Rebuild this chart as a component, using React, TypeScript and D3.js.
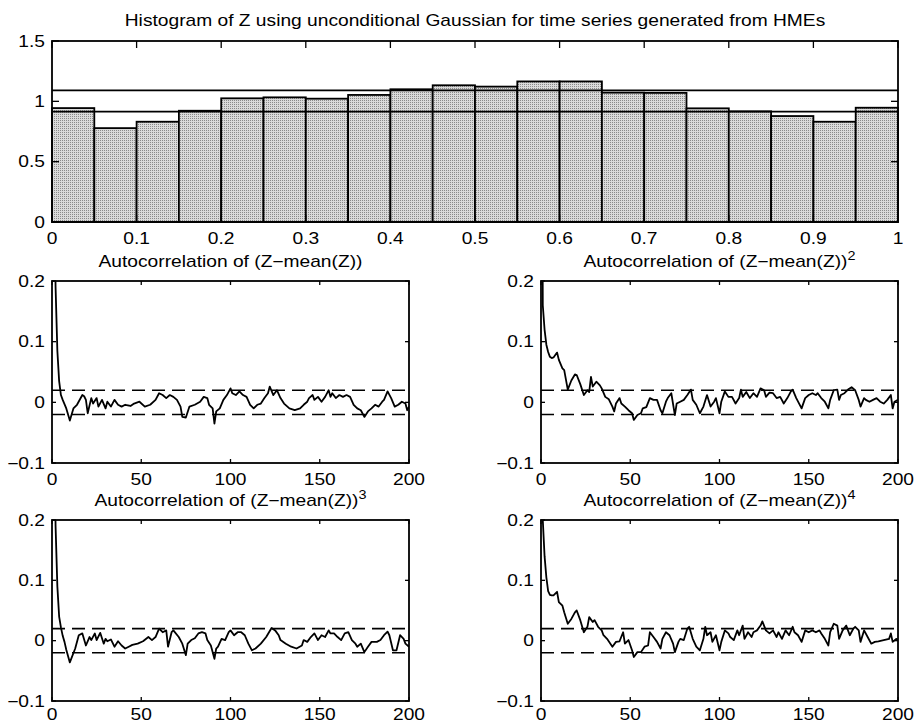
import React from 'react';
import * as d3 from 'd3';

// ---------- DATA ----------
const histEdges = [0, 0.05, 0.1, 0.15, 0.2, 0.25, 0.3, 0.35, 0.4, 0.45, 0.5, 0.55, 0.6, 0.65, 0.7, 0.75, 0.8, 0.85, 0.9, 0.95];
const histBinWidth = 0.05;
const histValues = [0.944, 0.778, 0.831, 0.922, 1.025, 1.033, 1.022, 1.053, 1.1, 1.133, 1.122, 1.165, 1.165, 1.072, 1.07, 0.942, 0.917, 0.878, 0.831, 0.947];
const histBounds = [0.915, 1.09];
const histXTicks = [0, 0.1, 0.2, 0.3, 0.4, 0.5, 0.6, 0.7, 0.8, 0.9, 1];
const histYTicks = [0, 0.5, 1, 1.5];

const acfXTicks = [0, 50, 100, 150, 200];
const acfYTicks = [-0.1, 0, 0.1, 0.2];
const confBand = [-0.02, 0.02];

const titleText = 'Histogram of Z using unconditional Gaussian for time series generated from HMEs';
const acfTitles = ['Autocorrelation of (Z\u2212mean(Z))', 'Autocorrelation of (Z\u2212mean(Z))', 'Autocorrelation of (Z\u2212mean(Z))', 'Autocorrelation of (Z\u2212mean(Z))'];
const acfPowers = ['', '2', '3', '4'];

// [lag, autocorrelation]
const acf1: [number, number][] = [[0,1],[1,0.45],[2,0.19],[3,0.085],[4,0.035],[5,0.012],[6,0.004],[8,-0.01],[10,-0.03],[12,-0.01],[14,-0.004],[17,0.012],[18,0.01],[19,0.004],[20,-0.018],[22,0.007],[23,-0.002],[25,0.007],[26,-0.007],[28,0.004],[30,-0.01],[31,0.001],[33,-0.007],[35,0.004],[37,-0.004],[39,-0.007],[41,-0.004],[44,-0.006],[46,-0.002],[49,0.001],[52,-0.007],[55,-0.004],[58,0.004],[60,0.015],[62,0.012],[64,0.007],[66,0.012],[68,0.009],[70,0.004],[72,-0.007],[73,-0.024],[75,-0.025],[77,-0.007],[80,-0.004],[83,0.001],[85,0.009],[87,0.007],[88,-0.004],[90,-0.01],[91,-0.035],[92,-0.015],[94,-0.01],[96,0.004],[98,0.012],[100,0.023],[101,0.015],[103,0.012],[105,0.018],[107,0.012],[109,0.009],[111,-0.004],[113,-0.01],[115,-0.004],[117,-0.002],[119,0.007],[121,0.015],[122,0.026],[124,0.012],[126,0.02],[128,0.007],[130,-0.002],[133,-0.01],[136,-0.013],[139,-0.01],[141,-0.004],[143,0.001],[144,0.007],[146,0.012],[147,0.004],[149,0.009],[151,0.001],[153,0.009],[155,0.02],[156,0.009],[157,0.015],[159,0.007],[161,0.012],[163,0.009],[165,0.012],[167,0.009],[169,-0.004],[171,-0.01],[173,-0.013],[175,-0.024],[177,-0.015],[179,-0.01],[181,-0.004],[183,-0.007],[185,0.001],[186,0.004],[188,0.018],[190,0.007],[192,-0.007],[194,-0.004],[196,0.001],[198,-0.002],[199,-0.013],[200,-0.007]];

const acf2: [number, number][] = [[0,1],[1,0.16],[2,0.12],[3,0.095],[4,0.083],[5,0.075],[6,0.073],[7,0.074],[9,0.082],[10,0.07],[12,0.056],[13,0.053],[15,0.021],[17,0.036],[19,0.046],[20,0.045],[22,0.03],[24,0.012],[26,0.02],[27,0.017],[28,0.042],[29,0.026],[31,0.034],[33,0.028],[34,0.023],[36,0.009],[38,0.005],[40,-0.007],[41,-0.015],[42,-0.002],[44,0.007],[45,-0.002],[47,-0.007],[49,-0.013],[51,-0.018],[52,-0.029],[54,-0.021],[56,-0.018],[57,-0.01],[59,-0.008],[61,0.007],[63,0.004],[65,0.004],[67,-0.013],[68,-0.018],[70,0.001],[71,0.007],[73,0.015],[75,-0.021],[76,-0.002],[78,0.001],[80,0.004],[82,0.012],[84,0.021],[85,0.004],[87,-0.004],[89,-0.018],[91,-0.007],[93,0.012],[95,-0.007],[97,0.001],[98,0.007],[100,-0.018],[101,0.001],[103,0.018],[105,0.009],[107,0.009],[109,-0.002],[111,0.007],[112,0.021],[113,0.009],[115,0.017],[117,0.007],[119,0.015],[121,0.009],[123,0.023],[125,0.02],[126,0.009],[128,0.016],[130,0.015],[132,0.007],[134,0.009],[136,-0.002],[138,0.007],[140,0.018],[141,0.021],[143,0.007],[146,-0.01],[148,0.007],[150,0.012],[152,0.015],[154,0.012],[155,0.015],[157,0.007],[159,0.001],[161,-0.01],[162,0.004],[164,0.02],[166,0.021],[167,0.004],[168,0.012],[170,0.015],[172,0.021],[174,0.025],[176,0.02],[178,0.004],[179,-0.007],[181,0.007],[182,0.004],[184,0.001],[186,0.004],[188,0.007],[190,0.001],[192,-0.002],[194,0.004],[196,0.012],[197,-0.01],[198,0.001],[200,0.004]];

const acf3: [number, number][] = [[0,1],[1,0.42],[2,0.19],[3,0.09],[4,0.04],[5,0.022],[6,0.008],[7,-0.002],[8,-0.015],[10,-0.036],[13,-0.013],[15,0.009],[17,0.012],[19,-0.008],[21,0.006],[22,0.001],[24,0.012],[25,0.001],[27,0.013],[29,-0.005],[30,0.003],[31,-0.001],[33,0.002],[35,-0.01],[37,-0.001],[39,-0.008],[41,-0.013],[43,-0.01],[45,-0.007],[48,-0.005],[51,-0.001],[54,0.006],[56,0.001],[58,0.006],[60,0.02],[62,0.014],[64,0.017],[65,-0.01],[67,0.014],[68,0.017],[71,0.006],[73,-0.005],[75,-0.024],[76,-0.005],[78,0.001],[80,0.004],[82,0.012],[84,0.014],[86,0.012],[87,0.001],[89,-0.008],[91,-0.03],[92,-0.013],[93,-0.01],[95,0.003],[97,0.001],[99,0.014],[100,0.017],[102,0.009],[104,0.014],[106,0.014],[108,0.009],[110,-0.005],[112,-0.016],[114,-0.013],[117,-0.005],[120,0.006],[123,0.021],[125,0.017],[127,0.009],[128,0.001],[131,-0.005],[134,-0.01],[137,-0.013],[140,-0.008],[141,0.001],[143,-0.002],[145,0.006],[147,0.012],[149,0.001],[151,0.009],[153,0.006],[155,0.017],[156,0.012],[158,0.012],[160,0.006],[162,0.001],[164,0.012],[166,0.014],[168,0.001],[170,-0.005],[171,-0.01],[173,-0.005],[175,-0.019],[177,-0.01],[179,-0.002],[182,-0.002],[184,0.001],[186,0.009],[188,0.015],[189,0.009],[191,-0.016],[193,-0.016],[195,0.009],[197,0.003],[198,-0.005],[200,-0.01]];

const acf4: [number, number][] = [[0,1],[1,0.2],[2,0.14],[3,0.105],[4,0.082],[5,0.076],[6,0.075],[7,0.075],[8,0.078],[9,0.081],[10,0.064],[12,0.058],[13,0.047],[15,0.028],[17,0.036],[19,0.047],[20,0.05],[22,0.034],[24,0.014],[26,0.023],[27,0.039],[29,0.031],[30,0.034],[32,0.023],[34,0.017],[35,0.009],[37,0.003],[40,-0.01],[42,-0.002],[44,-0.001],[46,0.014],[47,-0.005],[49,0.001],[51,-0.016],[52,-0.027],[54,-0.019],[56,-0.019],[58,-0.01],[60,-0.008],[61,0.014],[63,0.006],[65,-0.002],[67,-0.013],[68,0.003],[70,0.014],[72,0.009],[74,-0.005],[75,-0.019],[77,-0.002],[78,0.003],[80,0.001],[82,0.02],[83,0.023],[85,0.003],[87,-0.01],[89,-0.016],[91,0.003],[92,0.023],[93,0.009],[95,0.014],[96,-0.002],[98,0.009],[100,-0.016],[101,-0.002],[103,0.017],[105,0.012],[106,0.006],[108,0.001],[110,0.017],[111,0.009],[113,0.025],[114,0.003],[116,0.014],[118,0.006],[119,0.014],[121,0.017],[123,0.025],[124,0.032],[126,0.017],[128,0.012],[130,0.017],[132,0.006],[133,0.014],[135,0.003],[137,0.017],[139,0.009],[141,0.023],[142,0.014],[144,0.009],[146,-0.002],[148,0.017],[150,0.014],[152,0.017],[154,0.014],[156,0.017],[157,0.012],[159,0.003],[161,-0.008],[162,0.014],[164,0.028],[166,0.025],[167,0.003],[169,0.017],[171,0.025],[173,0.009],[175,0.02],[176,0.023],[178,0.017],[179,-0.002],[181,0.017],[183,0.006],[185,-0.005],[187,-0.002],[189,-0.001],[192,0.001],[195,0.003],[196,0.012],[197,-0.002],[199,0.003],[200,0.002]];

const acfSeries = [acf1, acf2, acf3, acf4];

// ---------- LAYOUT ----------
const W = 915, H = 725;
const SX = 1.2; // horizontal stretch of the text
const FS = 16;
const FONT = "'Liberation Sans', Arial, Helvetica, sans-serif";
const histBox = { left: 52, right: 898, top: 41, bottom: 222 };
const acfBoxes = [
  { left: 52, right: 409, top: 281, bottom: 463 },
  { left: 541, right: 898, top: 281, bottom: 463 },
  { left: 52, right: 409, top: 520, bottom: 701 },
  { left: 541, right: 898, top: 520, bottom: 701 },
];
const LW = 1.8;

const fmt = (v: number) => String(v).replace('-', '\u2212');

function Txt({ x, y, anchor = 'middle', size = FS, children }: any) {
  return (
    <text transform={`translate(${x},${y}) scale(${SX},1)`} textAnchor={anchor} fontSize={size} fontFamily={FONT} fill="#000">
      {children}
    </text>
  );
}

function Axes({ box, x, y, xTicks, yTicks, tickLen, labelOffset }: any) {
  return (
    <g>
      {xTicks.map((t: number, i: number) => (
        <g key={'x' + i}>
          <line x1={x(t)} x2={x(t)} y1={box.bottom} y2={box.bottom - tickLen} stroke="#000" strokeWidth={1.3} />
          <line x1={x(t)} x2={x(t)} y1={box.top} y2={box.top + tickLen} stroke="#000" strokeWidth={1.3} />
          <Txt x={x(t)} y={box.bottom + labelOffset}>{fmt(t)}</Txt>
        </g>
      ))}
      {yTicks.map((t: number, i: number) => (
        <g key={'y' + i}>
          <line x1={box.left} x2={box.left + tickLen} y1={y(t)} y2={y(t)} stroke="#000" strokeWidth={1.3} />
          <line x1={box.right} x2={box.right - tickLen} y1={y(t)} y2={y(t)} stroke="#000" strokeWidth={1.3} />
          <Txt x={box.left - 7} y={y(t) + 5.7} anchor="end">{fmt(t)}</Txt>
        </g>
      ))}
      <rect x={box.left} y={box.top} width={box.right - box.left} height={box.bottom - box.top} fill="none" stroke="#000" strokeWidth={LW} />
    </g>
  );
}

function Histogram() {
  const b = histBox;
  const x = d3.scaleLinear().domain([0, 1]).range([b.left, b.right]);
  const y = d3.scaleLinear().domain([0, 1.5]).range([b.bottom, b.top]);
  return (
    <g>
      {histEdges.map((e, i) => (
        <rect key={i} x={x(e)} y={y(histValues[i])} width={x(e + histBinWidth) - x(e)} height={y(0) - y(histValues[i])}
          fill="url(#stipple)" stroke="#000" strokeWidth={LW} />
      ))}
      {histBounds.map((v, i) => (
        <line key={i} x1={b.left} x2={b.right} y1={y(v)} y2={y(v)} stroke="#000" strokeWidth={LW} />
      ))}
      <Axes box={b} x={x} y={y} xTicks={histXTicks} yTicks={histYTicks} tickLen={7} labelOffset={22} />
      <Txt x={(b.left + b.right) / 2} y={26}>{titleText}</Txt>
    </g>
  );
}

function AcfPanel({ idx }: { idx: number }) {
  const b = acfBoxes[idx];
  const x = d3.scaleLinear().domain([0, 200]).range([b.left, b.right]);
  const y = d3.scaleLinear().domain([-0.1, 0.2]).range([b.bottom, b.top]);
  const line = d3.line<[number, number]>().x((d) => x(d[0])).y((d) => y(d[1]));
  const cid = 'clip' + idx;
  const labelOffset = idx >= 2 ? 19 : 22;
  return (
    <g>
      <clipPath id={cid}>
        <rect x={b.left} y={b.top} width={b.right - b.left} height={b.bottom - b.top} />
      </clipPath>
      <g clipPath={`url(#${cid})`}>
        {confBand.map((v, i) => (
          <line key={i} x1={b.left} x2={b.right} y1={y(v)} y2={y(v)} stroke="#000" strokeWidth={1.6} strokeDasharray="13,7" />
        ))}
        <path d={line(acfSeries[idx]) || ''} fill="none" stroke="#000" strokeWidth={1.8} strokeLinejoin="round" />
      </g>
      <Axes box={b} x={x} y={y} xTicks={acfXTicks} yTicks={acfYTicks} tickLen={4} labelOffset={labelOffset} />
      <text transform={`translate(${(b.left + b.right) / 2},${b.top - 14}) scale(${SX},1)`} textAnchor="middle" fontSize={FS} fontFamily={FONT}>
        {acfTitles[idx]}
        {acfPowers[idx] ? <tspan dy={-7} fontSize={12}>{acfPowers[idx]}</tspan> : null}
      </text>
    </g>
  );
}

export default function App() {
  return (
    <svg width={W} height={H} style={{ position: 'absolute', left: 0, top: 0, background: '#fff' }}>
      <defs>
        <pattern id="stipple" width="2" height="2" patternUnits="userSpaceOnUse">
          <rect width="2" height="2" fill="#dadada" />
          <rect width="1" height="1" fill="#8a8a8a" />
        </pattern>
      </defs>
      <rect width={W} height={H} fill="#fff" />
      <Histogram />
      {[0, 1, 2, 3].map((i) => <AcfPanel key={i} idx={i} />)}
    </svg>
  );
}
